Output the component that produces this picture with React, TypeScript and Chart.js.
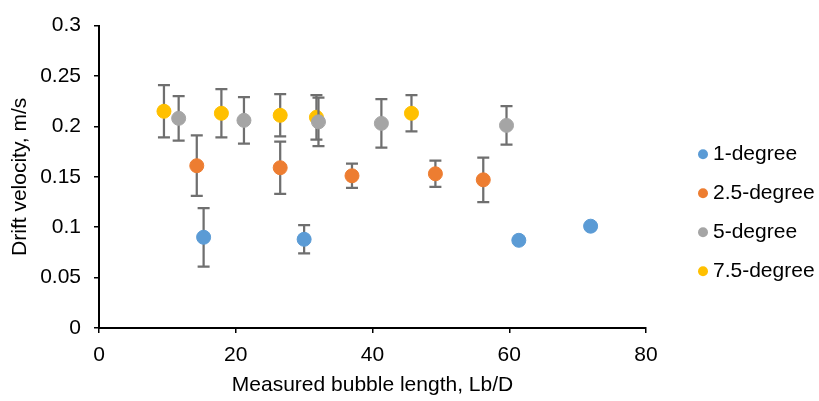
import React, { useEffect, useRef } from 'react';
import { Chart, registerables } from 'chart.js';

Chart.register(...registerables);

const seriesNames = ['1-degree', '2.5-degree', '5-degree', '7.5-degree'];
const seriesColors = ['#5B9BD5', '#ED7D31', '#A5A5A5', '#FFC000'];

const x1deg = [15.3, 30.0, 61.4, 71.9];
const y1deg = [0.090, 0.088, 0.087, 0.101];
const e1deg = [0.029, 0.014, 0, 0];

const x25deg = [14.3, 26.5, 37.0, 49.2, 56.2];
const y25deg = [0.161, 0.159, 0.151, 0.153, 0.147];
const e25deg = [0.030, 0.026, 0.012, 0.013, 0.022];

const x5deg = [11.65, 21.2, 32.1, 41.3, 59.6];
const y5deg = [0.208, 0.206, 0.2045, 0.203, 0.201];
const e5deg = [0.022, 0.023, 0.024, 0.024, 0.019];

const x75deg = [9.5, 17.9, 26.5, 31.8, 45.7];
const y75deg = [0.215, 0.213, 0.211, 0.209, 0.213];
const e75deg = [0.026, 0.024, 0.021, 0.022, 0.018];

const xs = [x1deg, x25deg, x5deg, x75deg];
const ys = [y1deg, y25deg, y5deg, y75deg];
const errs = [e1deg, e25deg, e5deg, e75deg];

const xTitle = 'Measured bubble length, Lb/D';
const yTitle = 'Drift velocity, m/s';

const FONT = '"Liberation Sans", Arial, Helvetica, sans-serif';
const FS = 21;

const errorBarPlugin = {
  id: 'errorBars',
  beforeDatasetDraw(chart: any, args: any) {
    const i = args.index;
    const err = errs[i];
    const meta = chart.getDatasetMeta(i);
    const yScale = chart.scales.y;
    const ctx = chart.ctx;
    ctx.save();
    ctx.strokeStyle = '#6f6f6f';
    ctx.lineWidth = 2.25;
    meta.data.forEach((pt: any, j: number) => {
      const e = err[j];
      if (!e) return;
      const v = ys[i][j];
      const top = yScale.getPixelForValue(v + e);
      const bot = yScale.getPixelForValue(v - e);
      const x = pt.x;
      ctx.beginPath();
      ctx.moveTo(x, top);
      ctx.lineTo(x, bot);
      ctx.moveTo(x - 6, top);
      ctx.lineTo(x + 6, top);
      ctx.moveTo(x - 6, bot);
      ctx.lineTo(x + 6, bot);
      ctx.stroke();
    });
    ctx.restore();
  },
};

const sideLegendPlugin = {
  id: 'sideLegend',
  afterDraw(chart: any) {
    const { ctx, chartArea } = chart;
    ctx.save();
    ctx.font = `${FS}px ${FONT}`;
    ctx.textBaseline = 'middle';
    ctx.textAlign = 'left';
    const dotX = chartArea.right + 57;
    const mid = (chartArea.top + chartArea.bottom) / 2 + 36;
    const step = 39;
    const n = chart.data.datasets.length;
    chart.data.datasets.forEach((ds: any, k: number) => {
      const cy = mid + (k - (n - 1) / 2) * step;
      ctx.beginPath();
      ctx.fillStyle = ds.backgroundColor;
      ctx.arc(dotX, cy, 5, 0, Math.PI * 2);
      ctx.fill();
      ctx.fillStyle = '#000';
      ctx.fillText(ds.label, dotX + 10, cy);
    });
    ctx.restore();
  },
};

export default function App() {
  const ref = useRef<HTMLCanvasElement>(null);
  useEffect(() => {
    document.body.style.margin = '0';
    if (!ref.current) return;
    const datasets = seriesNames.map((name, i) => ({
      label: name,
      data: xs[i].map((x, j) => ({ x, y: ys[i][j] })),
      backgroundColor: seriesColors[i],
      borderColor: seriesColors[i],
      pointRadius: 7,
      pointBorderWidth: 1,
      showLine: false,
    }));
    const chart = new Chart(ref.current, {
      type: 'scatter',
      data: { datasets },
      options: {
        animation: false,
        responsive: false,
        layout: { padding: { top: 19, right: 173, left: 0, bottom: 0 } },
        plugins: {
          legend: { display: false },
          tooltip: { enabled: false },
        },
        scales: {
          x: {
            type: 'linear',
            min: 0,
            max: 80,
            ticks: {
              stepSize: 20,
              color: '#000',
              font: { family: FONT, size: FS },
              padding: 10,
            },
            grid: {
              display: true,
              drawOnChartArea: false,
              drawTicks: true,
              tickLength: 5,
              color: '#000',
              lineWidth: 1.5,
            },
            border: { display: true, color: '#000', width: 2 },
            title: {
              display: true,
              text: xTitle,
              color: '#000',
              font: { family: FONT, size: FS },
              padding: { top: 4, bottom: 3 },
            },
            afterFit: (scale: any) => {
              scale.height = 73;
            },
          },
          y: {
            type: 'linear',
            min: 0,
            max: 0.3,
            ticks: {
              stepSize: 0.05,
              color: '#000',
              font: { family: FONT, size: FS },
              padding: 13,
              callback: (v: any) => String(Number(Number(v).toFixed(2))),
            },
            grid: {
              display: true,
              drawOnChartArea: false,
              drawTicks: true,
              tickLength: 5,
              color: '#000',
              lineWidth: 1.5,
            },
            border: { display: true, color: '#000', width: 2 },
            title: {
              display: true,
              text: yTitle,
              color: '#000',
              font: { family: FONT, size: FS },
              padding: { top: 8, bottom: 4 },
            },
            afterFit: (scale: any) => {
              scale.width = 99;
            },
          },
        },
      },
      plugins: [errorBarPlugin, sideLegendPlugin],
    });
    return () => chart.destroy();
  }, []);
  return (
    <div style={{ width: 819, height: 401 }}>
      <canvas ref={ref} width={819} height={401} style={{ display: 'block' }} />
    </div>
  );
}
